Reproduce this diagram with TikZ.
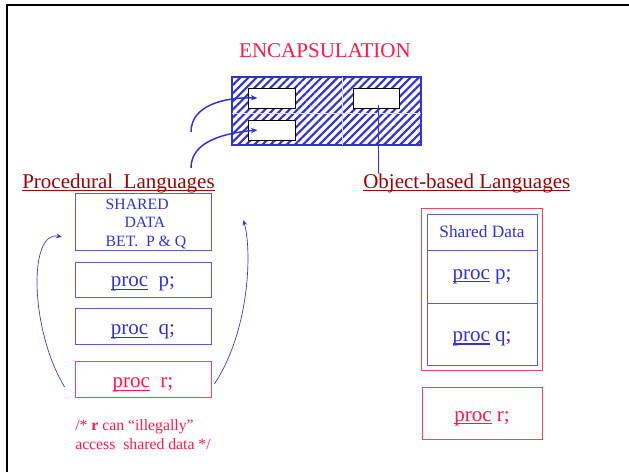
\documentclass[tikz,border=0pt]{standalone}
\usepackage{fontspec}
\setmainfont{Liberation Serif}
\usetikzlibrary{patterns.meta,arrows.meta,fit}

\definecolor{encred}{RGB}{255,25,70}
\definecolor{headred}{RGB}{160,0,0}
\definecolor{textblue}{RGB}{50,50,205}
\definecolor{lineblue}{RGB}{90,90,220}
\definecolor{boxred}{RGB}{240,70,100}

\newcommand\undl[1]{\setbox0\hbox{#1}\rlap{\rule[-2.4pt]{\wd0}{0.8pt}}#1}
\newcommand\bigtxt{\fontsize{15.75}{19}\selectfont}
\newcommand\smalltxt{\fontsize{11.8}{13.8}\selectfont}

\tikzset{
  head/.style={text=headred,font=\bigtxt,inner sep=0pt},
  procbox/.style={draw=lineblue,line width=0.6pt,text=textblue,minimum width=102pt,font=\bigtxt},
  lowtext/.style={text height=#1,text depth=0pt},
  rbox/.style={draw=boxred,line width=0.6pt,text=encred,font=\bigtxt},
  cell/.style={draw=lineblue,line width=0.6pt,text=textblue,minimum width=82.5pt,font=\bigtxt},
  slot/.style={draw=black,fill=white,line width=0.6pt},
  note/.style={text=encred,font=\smalltxt,inner sep=0pt},
  conn/.style={draw=textblue,line width=1.1pt,-{Stealth[length=5pt,width=4pt]}},
  loop/.style={draw=textblue,line width=0.5pt,-{Stealth[length=4pt,width=3.5pt]}}
}

\begin{document}
\begin{tikzpicture}[x=0.75pt,y=-0.75pt]
\useasboundingbox (0,0) rectangle (629,472);
% frame
\draw[black,line width=1.5pt] (7,472) -- (7,5) -- (629,5);

\node[text=encred,font=\bigtxt,anchor=base] (title) at (325,57) {ENCAPSULATION};

% hatched capsule
\node[draw=textblue,line width=0.8pt,preaction={fill=white},
      pattern={Lines[angle=45,distance=4.3pt,line width=1.6pt]},pattern color=textblue,
      minimum width=141.75pt,minimum height=51pt,inner sep=0pt] (enc) at (326.5,111) {};
\draw[blue!15,line width=0.6pt] (342,77) -- (342,145);
\draw[blue!15,line width=0.6pt] (232,113) -- (421,113);
\node[slot,minimum width=35.25pt,minimum height=15pt,inner sep=0pt] (s1) at (271.5,98) {};
\node[slot,minimum width=35.25pt,minimum height=15pt,inner sep=0pt] (s2) at (271.5,130) {};
\node[slot,minimum width=34.5pt,minimum height=15pt,inner sep=0pt] (s3) at (376,98) {};

\node[head,anchor=base west] (pl) at (22,188) {\undl{Procedural\ \ Languages}};
\node[head,anchor=base west] (ob) at (363,188) {\undl{Object-based Languages}};

\coordinate (c1) at (191,132);
\coordinate (c2) at (191,168);
\draw[conn] (c1) .. controls (191,105) and (225,97) .. ([xshift=-10.5pt]s1.center);
\draw[conn] (c2) .. controls (191,141) and (225,133) .. ([xshift=-10.5pt]s2.center);
\draw[textblue,line width=1.1pt] ([xshift=2pt,yshift=-5pt]s3.center) -- ([xshift=2pt]s3.center |- ob.north);

% procedural side
\node[procbox,minimum height=42.75pt] (sh) at (143,221.5) {};
\node[text=textblue,font=\smalltxt,align=left,inner sep=0pt] (shtxt) at (146,224)
  {SHARED\\\hspace{1.2em}DATA\\BET.\ \ P \& Q};
\node[procbox,minimum height=26.25pt,lowtext=11pt] (p) at (143,279.5) {\undl{proc}\ \ p;};
\node[procbox,minimum height=27pt,lowtext=13pt] (q) at (143,326) {\undl{proc}\ \ q;};
\node[rbox,minimum width=102pt,minimum height=27pt,lowtext=13pt] (r) at (143,379) {\undl{proc}\ \ r;};
\draw[loop] ([xshift=-7.5pt,yshift=-6pt]r.west) .. controls (30,330) and (28,230) .. ([xshift=-9.75pt,yshift=-11.5pt]sh.west);
\draw[loop] ([xshift=2.25pt,yshift=-3.75pt]r.east) .. controls (250,330) and (252,250) .. ([xshift=24pt,yshift=1pt]sh.east);
\node[note,anchor=base west] (n1) at (75,430) {/* \textbf{r} can “illegally”};
\node[note,anchor=base west] (n2) at (75,449) {access\ \ shared data */};

% object-based side
\node[cell,minimum height=27pt,font=\fontsize{13}{15}\selectfont] (sd) at (482,232) {Shared Data};
\node[cell,minimum height=39.75pt] (op) at (482,276.5) {\undl{proc} p;};
\node[cell,minimum height=46.5pt,lowtext=11pt] (oq) at (482,334) {\undl{proc} q;};
\node[draw=boxred,line width=0.8pt,fit=(sd)(oq),inner sep=3.5pt] (obj) {};
\node[rbox,minimum width=90pt,minimum height=39pt,lowtext=12pt] (or) at (482,413) {\undl{proc} r;};
\end{tikzpicture}
\end{document}
